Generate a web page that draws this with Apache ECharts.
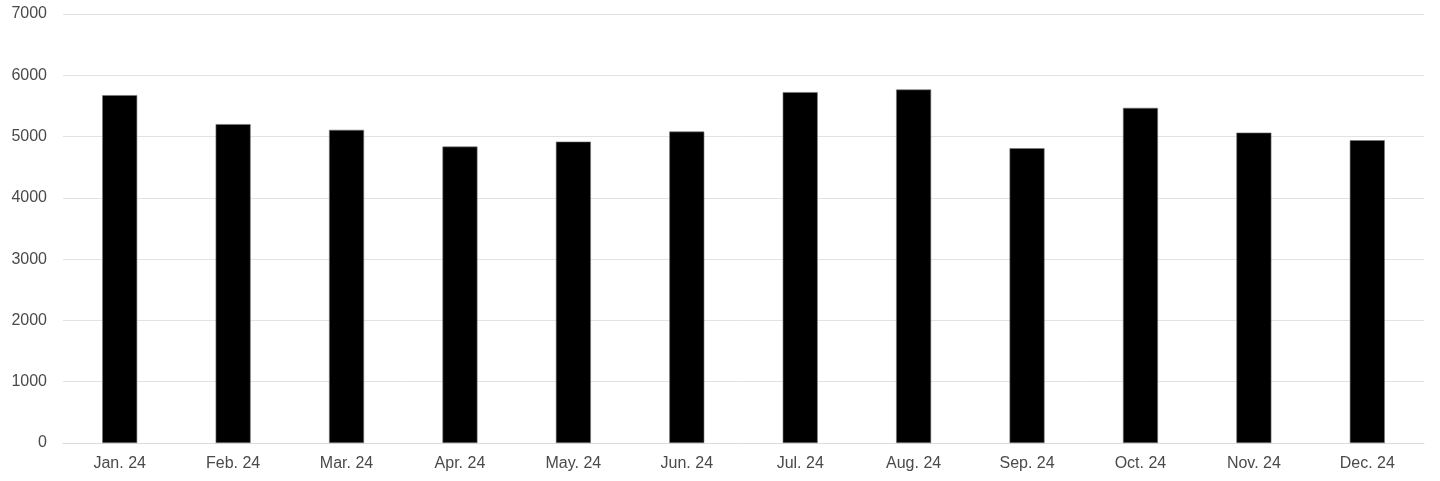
<!DOCTYPE html>
<html>
<head>
<meta charset="utf-8">
<script src="https://cdn.jsdelivr.net/npm/echarts@6/dist/echarts.min.js"></script>
<style>
  html, body { margin: 0; padding: 0; background: #fff; }
  #chart { width: 1440px; height: 481px; }
</style>
</head>
<body>
<div id="chart"></div>
<script>
// 月份
const months = ['Jan. 24', 'Feb. 24', 'Mar. 24', 'Apr. 24', 'May. 24', 'Jun. 24',
  'Jul. 24', 'Aug. 24', 'Sep. 24', 'Oct. 24', 'Nov. 24', 'Dec. 24']
// 每月数值
const values = [5676, 5203, 5110, 4837, 4918, 5082, 5725, 5768, 4810, 5469, 5065, 4941]
// y轴刻度
const yMin = 0
const yMax = 7000
const yStep = 1000

const labelStyle = {
  color: '#4a4a4a',
  fontSize: 16,
  fontFamily: 'Liberation Sans, Arial, sans-serif'
}

let options = {
  animation: false,
  grid: { left: 63, right: 16, top: 14, bottom: 38 },
  xAxis: {
    type: 'category',
    data: months,
    axisTick: { show: false },
    axisLine: { lineStyle: { color: '#dcdcdc', width: 1 } },
    axisLabel: { ...labelStyle, margin: 13, interval: 0 }
  },
  yAxis: {
    type: 'value',
    min: yMin,
    max: yMax,
    interval: yStep,
    axisLine: { show: false },
    axisTick: { show: false },
    axisLabel: { ...labelStyle, margin: 16, formatter: (v) => String(v) },
    splitLine: { lineStyle: { color: '#e2e2e2', width: 1 } }
  },
  series: [
    {
      type: 'bar',
      data: values,
      barWidth: 35,
      itemStyle: {
        color: '#000',
        borderColor: '#777',
        borderWidth: 0.6
      }
    }
  ]
}

let echart = echarts.init(document.getElementById('chart'))
echart.setOption(options)
</script>
</body>
</html>
